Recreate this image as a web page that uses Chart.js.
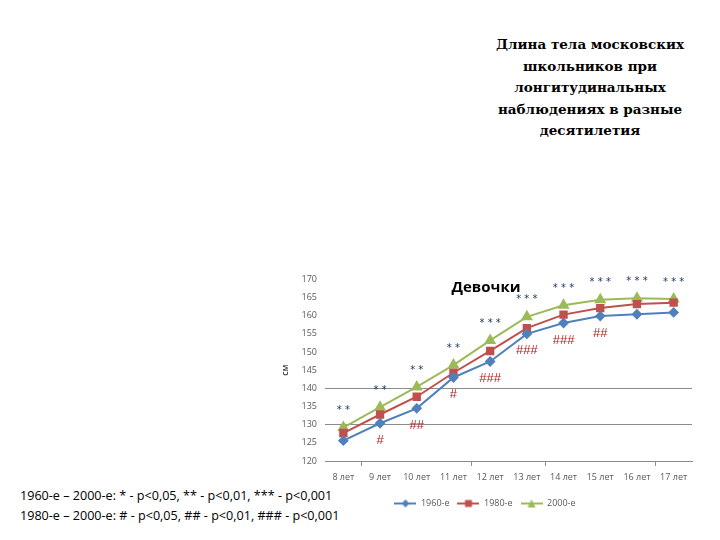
<!DOCTYPE html>
<html>
<head>
<meta charset="utf-8">
<script src="https://cdn.jsdelivr.net/npm/chart.js@4.4.1/dist/chart.umd.min.js"></script>
<style>
    body { margin: 0; width: 720px; height: 540px; background: #fff; position: relative; overflow: hidden; }
    #title {
        position: absolute; left: 470px; top: 34px; width: 240px;
        text-align: center; font-family: "DejaVu Serif", serif; font-weight: bold;
        font-size: 13.5px; line-height: 21.5px; color: #000;
    }
    #notes {
        position: absolute; left: 20px; top: 486px;
        font-family: "Open Sans", sans-serif; font-size: 12.6px; line-height: 20px; color: #000;
    }
    #wrap { position: absolute; left: 278px; top: 266px; width: 424px; height: 252px; }
</style>
</head>
<body>
<div id="title">Длина тела московских<br>школьников при<br>лонгитудинальных<br>наблюдениях в разные<br>десятилетия</div>
<div id="notes">1960-е – 2000-е: * - p&lt;0,05, ** - p&lt;0,01, *** - p&lt;0,001<br>1980-е – 2000-е: # - p&lt;0,05, ## - p&lt;0,01, ### - p&lt;0,001</div>
<div id="wrap"><canvas id="chart"></canvas></div>
<script>
// Ages (categories)
const ages = ['8 лет', '9 лет', '10 лет', '11 лет', '12 лет', '13 лет', '14 лет', '15 лет', '16 лет', '17 лет'];

// Body length, cm
const height1960 = [125.6, 130.4, 134.5, 143.0, 147.4, 155.0, 158.0, 159.9, 160.4, 160.9];
const height1980 = [127.7, 132.8, 137.7, 144.3, 150.3, 156.6, 160.3, 162.1, 163.2, 163.6];
const height2000 = [129.2, 134.8, 140.4, 146.4, 153.2, 159.7, 162.9, 164.4, 164.8, 164.6];

// Significance marks
const starMarks = ['* *', '* *', '* *', '* *', '* * *', '* * *', '* * *', '* * *', '* * *', '* * *'];
const hashMarks = ['', '#', '##', '#', '###', '###', '###', '##', '', ''];

const yTicks = [120, 125, 130, 135, 140, 145, 150, 155, 160, 165, 170];

const BLUE = '#4F81BD', RED = '#C0504D', GREEN = '#9BBB59';

// little "line + marker" picture for the legend
function legendIcon(color, shape) {
    const c = document.createElement('canvas');
    c.width = 22; c.height = 10;
    const g = c.getContext('2d');
    g.strokeStyle = color; g.fillStyle = color; g.lineWidth = 2;
    g.beginPath(); g.moveTo(0, 5); g.lineTo(22, 5); g.stroke();
    g.beginPath();
    if (shape === 'rectRot') { g.moveTo(11, 1); g.lineTo(15, 5); g.lineTo(11, 9); g.lineTo(7, 5); }
    else if (shape === 'rect') { g.rect(7.5, 1.5, 7, 7); }
    else { g.moveTo(11, 1); g.lineTo(15, 9); g.lineTo(7, 9); }
    g.closePath(); g.fill();
    return c;
}

const marksPlugin = {
    id: 'marks',
    afterDatasetsDraw(chart) {
        const ctx = chart.ctx;
        const x = chart.scales.x, y = chart.scales.y;
        ctx.save();
        ctx.textAlign = 'center';
        ctx.textBaseline = 'middle';
        ages.forEach((a, i) => {
            const px = x.getPixelForValue(i);
            ctx.fillStyle = '#1F3864';
            ctx.font = '10px "DejaVu Sans"';
            ctx.fillText(starMarks[i], px, y.getPixelForValue(height2000[i]) - 17);
            ctx.fillStyle = '#B22222';
            ctx.font = '13px "Liberation Sans"';
            ctx.fillText(hashMarks[i], px, y.getPixelForValue(height1960[i]) + 17);
        });
        // chart title inside plot
        const area = chart.chartArea;
        ctx.fillStyle = '#000';
        ctx.font = 'bold 15px "Open Sans"';
        ctx.fillText('Девочки', area.left + 161, area.top + 8);
        ctx.restore();
    }
};

const tickSpots = [1, 4, 6, 9];

new Chart(document.getElementById('chart'), {
    type: 'line',
    data: {
        labels: ages,
        datasets: [
            { label: '1960-е', data: height1960, borderColor: BLUE, backgroundColor: BLUE,
              pointStyle: 'rectRot', pointRadius: 4, borderWidth: 2, icon: legendIcon(BLUE, 'rectRot') },
            { label: '1980-е', data: height1980, borderColor: RED, backgroundColor: RED,
              pointStyle: 'rect', pointRadius: 4.5, borderWidth: 2, icon: legendIcon(RED, 'rect') },
            { label: '2000-е', data: height2000, borderColor: GREEN, backgroundColor: GREEN,
              pointStyle: 'triangle', pointRadius: 5, borderWidth: 2, icon: legendIcon(GREEN, 'triangle') }
        ]
    },
    options: {
        responsive: true,
        maintainAspectRatio: false,
        animation: false,
        layout: { padding: { top: 10, right: 10, bottom: 0, left: 0 } },
        scales: {
            x: {
                offset: true,
                grid: {
                    offset: true,
                    drawOnChartArea: false,
                    tickLength: 5,
                    color: ctx => tickSpots.includes(ctx.index) ? '#8c8c8c' : 'rgba(0,0,0,0)'
                },
                border: { display: true, color: '#8c8c8c', width: 1 },
                ticks: { color: '#595959', font: { size: 9, family: 'Open Sans' }, maxRotation: 0, autoSkip: false, padding: 6 },
                afterFit: s => { s.height = 30; }
            },
            y: {
                min: 120, max: 170,
                afterBuildTicks: s => { s.ticks = yTicks.map(v => ({ value: v })); },
                grid: {
                    drawTicks: false,
                    color: ctx => (ctx.tick.value === 130 || ctx.tick.value === 140) ? '#8c8c8c' : 'rgba(0,0,0,0)'
                },
                border: { display: false },
                ticks: { color: '#595959', font: { size: 9, family: 'Open Sans' }, padding: 8 },
                title: { display: true, text: 'см', color: '#000', font: { size: 9, family: 'Open Sans' }, padding: 2 },
                afterFit: s => { s.width = 47; }
            }
        },
        plugins: {
            legend: {
                position: 'bottom',
                labels: {
                    color: '#595959',
                    font: { size: 9, family: 'Open Sans' },
                    usePointStyle: true,
                    pointStyleWidth: 22,
                    padding: 8,
                    generateLabels: chart => chart.data.datasets.map((d, i) => ({
                        text: d.label, pointStyle: d.icon, fillStyle: d.borderColor,
                        strokeStyle: d.borderColor, fontColor: '#595959', datasetIndex: i, hidden: false
                    }))
                }
            },
            tooltip: { enabled: false }
        }
    },
    plugins: [marksPlugin]
});
</script>
</body>
</html>
